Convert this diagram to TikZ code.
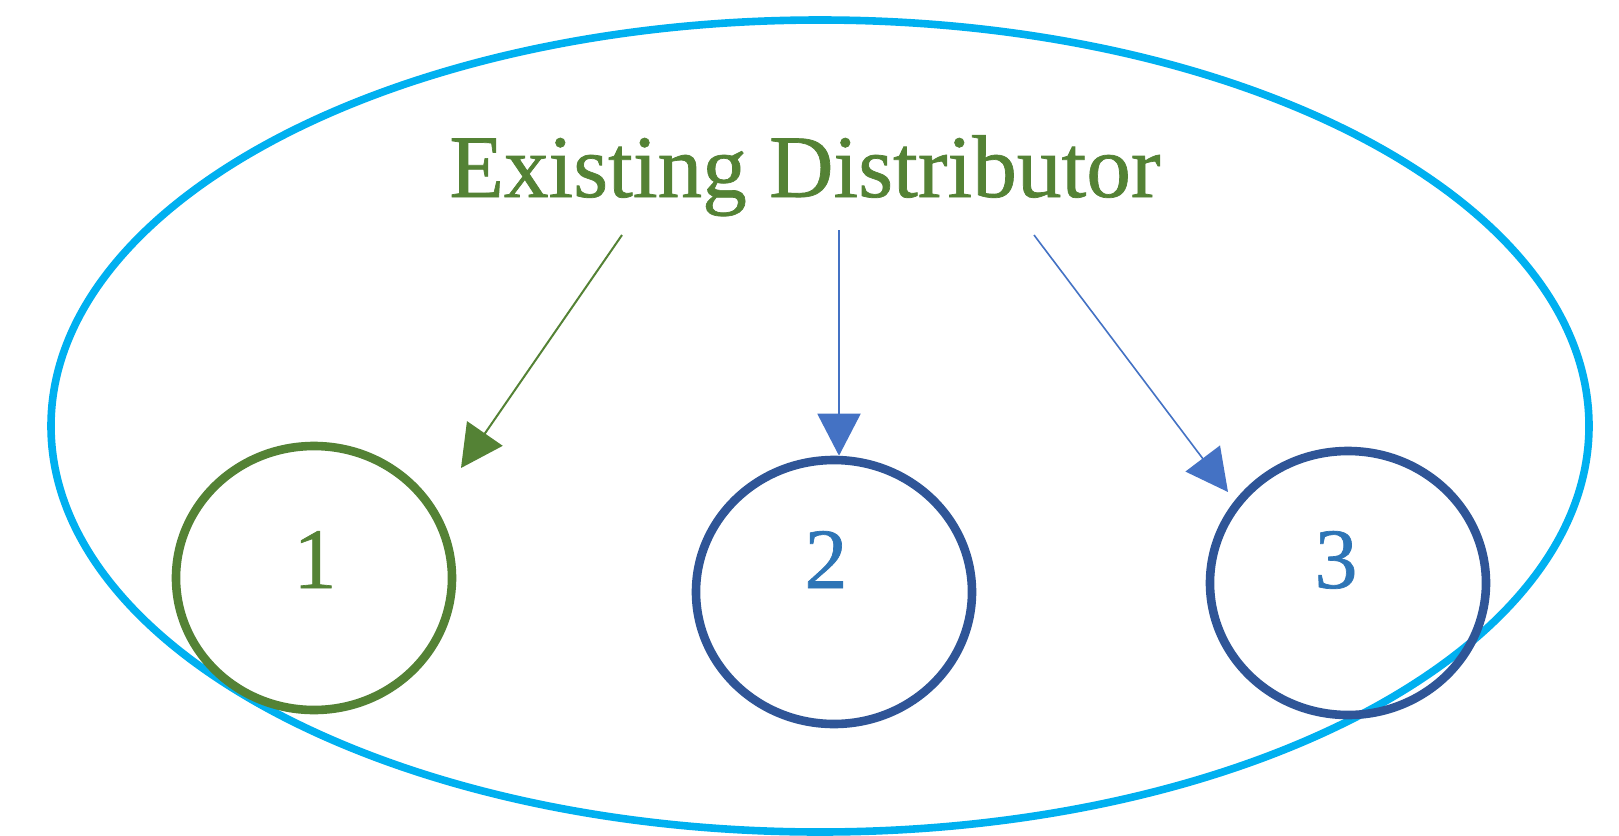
\documentclass[tikz,border=0pt]{standalone}
\usepackage{fontspec}
\setmainfont{Liberation Serif}
\newfontfamily\heavyserif[FakeBold=0.8]{Liberation Serif}
\usetikzlibrary{arrows.meta,shapes.geometric}
\definecolor{skyline}{HTML}{00B0F0}
\definecolor{leaf}{HTML}{548235}
\definecolor{navy}{HTML}{2F5597}
\definecolor{arrowblue}{HTML}{4472C4}
\definecolor{digitblue}{HTML}{2E75B6}
\begin{document}
\begin{tikzpicture}[x=0.5pt,y=-0.5pt,
  ring/.style={ellipse, draw, line width=4.3pt, minimum width=138pt, minimum height=132pt, inner sep=0pt},
  digit/.style={font=\heavyserif\fontsize{43}{43}\selectfont, anchor=base, inner sep=0pt},
  link/.style={-{Triangle[length=21pt,width=21.5pt]}, line width=1pt}]
\fill[white] (0,0) rectangle (1619,836);
\useasboundingbox (0,0) rectangle (1619,836);
\node[ellipse, draw=skyline, line width=3.8pt, minimum width=769pt, minimum height=406pt, inner sep=0pt] (outer) at (820,426) {};
\node[font=\heavyserif\fontsize{44.6}{50}\selectfont, text=leaf, anchor=base, inner sep=0pt] (title) at (805,197) {Existing Distributor};
\node[ring, draw=leaf] (c1) at (314,578) {};
\node[ring, draw=navy] (c2) at (834,592) {};
\node[ring, draw=navy] (c3) at (1348,583) {};
\node[digit, text=leaf] (n1) at (315,588) {1};
\node[digit, text=digitblue] (n2) at (826,588) {2};
\node[digit, text=digitblue] (n3) at (1336,588) {3};
\coordinate (s1) at (622,235);
\coordinate (t1) at (461,468);
\coordinate (s2) at (839,230);
\coordinate (s3) at (1034,235);
\coordinate (t3) at (1228,492);
\draw[link, leaf] (s1) -- (t1);
\draw[link, arrowblue] (s2) -- (s2 |- c2.north);
\draw[link, arrowblue, line width=0.8pt] (s3) -- (t3);
\end{tikzpicture}
\end{document}
